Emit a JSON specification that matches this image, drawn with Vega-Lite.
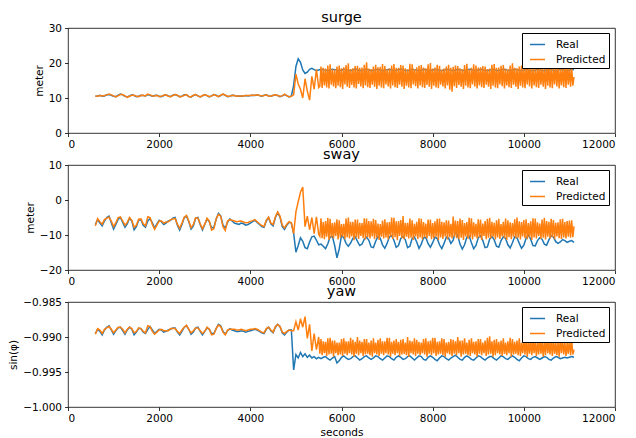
{
"$schema":"https://vega.github.io/schema/vega-lite/v6.json",
"background":"white",
"padding":{"left":8,"top":9,"right":0,"bottom":0},
"config":{
"font":"DejaVu Sans",
"view":{"stroke":"black","strokeWidth":0.8},
"axis":{"grid":false,"domain":false,"tickColor":"black","labelColor":"black","titleColor":"black","labelFont":"DejaVu Sans","titleFont":"DejaVu Sans","labelFontSize":10.5,"titleFontSize":10.5,"titleFontWeight":"normal","tickSize":3.5,"tickWidth":0.8,"labelPadding":3,"titlePadding":4},
"title":{"font":"DejaVu Sans","fontSize":14.5,"fontWeight":"normal","color":"black","offset":-2,"anchor":"middle","frame":"group"},
"legend":{"strokeColor":"black","fillColor":"white","padding":3,"cornerRadius":0,"symbolType":"stroke","symbolSize":225,"symbolStrokeWidth":1.5,"labelFont":"DejaVu Sans","labelFontSize":10.5,"labelColor":"black","rowPadding":1,"labelOffset":10,"symbolOffset":4}
},
"datasets":{
"surge":[
{"t":600,"Real":10.5,"Predicted":10.6},{"t":650,"Real":10.6,"Predicted":10.5},{"t":700,"Real":10.8,"Predicted":10.7},{"t":750,"Real":10.5,"Predicted":10.6},{"t":800,"Real":10.6,"Predicted":10.7},{"t":850,"Real":10.9,"Predicted":10.9},{"t":900,"Real":11.0,"Predicted":11.1},{"t":950,"Real":10.8,"Predicted":10.9},{"t":1000,"Real":10.5,"Predicted":10.6},{"t":1050,"Real":10.4,"Predicted":10.3},
{"t":1100,"Real":10.8,"Predicted":10.7},{"t":1150,"Real":11.1,"Predicted":11.0},{"t":1200,"Real":10.9,"Predicted":11.0},{"t":1250,"Real":10.5,"Predicted":10.6},{"t":1300,"Real":10.3,"Predicted":10.2},{"t":1350,"Real":10.6,"Predicted":10.5},{"t":1400,"Real":10.9,"Predicted":10.8},{"t":1450,"Real":10.7,"Predicted":10.8},{"t":1500,"Real":10.4,"Predicted":10.5},{"t":1550,"Real":10.5,"Predicted":10.4},
{"t":1600,"Real":10.8,"Predicted":10.7},{"t":1650,"Real":10.7,"Predicted":10.8},{"t":1700,"Real":10.6,"Predicted":10.6},{"t":1750,"Real":11.0,"Predicted":11.1},{"t":1800,"Real":10.8,"Predicted":10.9},{"t":1850,"Real":10.5,"Predicted":10.6},{"t":1900,"Real":10.7,"Predicted":10.6},{"t":1950,"Real":10.8,"Predicted":10.8},{"t":2000,"Real":10.5,"Predicted":10.4},{"t":2050,"Real":10.4,"Predicted":10.5},
{"t":2100,"Real":10.7,"Predicted":10.8},{"t":2150,"Real":10.9,"Predicted":10.9},{"t":2200,"Real":10.6,"Predicted":10.5},{"t":2250,"Real":10.4,"Predicted":10.4},{"t":2300,"Real":10.8,"Predicted":10.7},{"t":2350,"Real":11.0,"Predicted":11.0},{"t":2400,"Real":10.7,"Predicted":10.8},{"t":2450,"Real":10.4,"Predicted":10.3},{"t":2500,"Real":10.5,"Predicted":10.5},{"t":2550,"Real":10.9,"Predicted":10.8},
{"t":2600,"Real":10.9,"Predicted":11.0},{"t":2650,"Real":10.4,"Predicted":10.4},{"t":2700,"Real":10.3,"Predicted":10.3},{"t":2750,"Real":10.7,"Predicted":10.8},{"t":2800,"Real":11.0,"Predicted":11.0},{"t":2850,"Real":10.6,"Predicted":10.6},{"t":2900,"Real":10.3,"Predicted":10.3},{"t":2950,"Real":10.6,"Predicted":10.7},{"t":3000,"Real":11.0,"Predicted":10.9},{"t":3050,"Real":10.7,"Predicted":10.7},
{"t":3100,"Real":10.3,"Predicted":10.4},{"t":3150,"Real":10.6,"Predicted":10.6},{"t":3200,"Real":11.0,"Predicted":11.0},{"t":3250,"Real":10.8,"Predicted":10.7},{"t":3300,"Real":10.4,"Predicted":10.4},{"t":3350,"Real":10.7,"Predicted":10.8},{"t":3400,"Real":11.1,"Predicted":11.1},{"t":3450,"Real":10.8,"Predicted":10.8},{"t":3500,"Real":10.4,"Predicted":10.5},{"t":3550,"Real":10.5,"Predicted":10.5},
{"t":3600,"Real":10.8,"Predicted":10.8},{"t":3650,"Real":10.7,"Predicted":10.7},{"t":3700,"Real":10.5,"Predicted":10.5},{"t":3750,"Real":10.6,"Predicted":10.6},{"t":3800,"Real":10.5,"Predicted":10.6},{"t":3850,"Real":10.6,"Predicted":10.6},{"t":3900,"Real":10.7,"Predicted":10.7},{"t":3950,"Real":10.6,"Predicted":10.7},{"t":4000,"Real":10.7,"Predicted":10.7},{"t":4050,"Real":10.8,"Predicted":10.8},
{"t":4100,"Real":10.7,"Predicted":10.8},{"t":4150,"Real":10.9,"Predicted":10.9},{"t":4200,"Real":10.7,"Predicted":10.7},{"t":4250,"Real":10.5,"Predicted":10.6},{"t":4300,"Real":10.8,"Predicted":10.7},{"t":4350,"Real":10.9,"Predicted":10.9},{"t":4400,"Real":10.6,"Predicted":10.6},{"t":4450,"Real":10.5,"Predicted":10.5},{"t":4500,"Real":10.7,"Predicted":10.8},{"t":4550,"Real":10.9,"Predicted":10.9},
{"t":4600,"Real":10.7,"Predicted":10.7},{"t":4650,"Real":10.4,"Predicted":10.5},{"t":4700,"Real":10.6,"Predicted":10.6},{"t":4750,"Real":11.0,"Predicted":11.1},{"t":4800,"Real":10.7,"Predicted":10.7},{"t":4850,"Real":10.3,"Predicted":10.3},{"t":4900,"Real":10.6,"Predicted":10.5},
{"t":4950,"Real":13.5,"Predicted":10.9},{"t":5000,"Real":19.0,"Predicted":16.8},{"t":5050,"Real":21.2,"Predicted":14.0},{"t":5100,"Real":20.2,"Predicted":12.5},{"t":5150,"Real":18.0,"Predicted":10.0},{"t":5200,"Real":17.0,"Predicted":15.5},{"t":5250,"Real":17.4,"Predicted":12.0},{"t":5300,"Real":18.2,"Predicted":9.4},{"t":5350,"Real":18.5,"Predicted":16.2},{"t":5400,"Real":18.1,"Predicted":12.5},{"t":5450,"Real":17.8,"Predicted":18.2},{"t":5500,"Real":18.0,"Predicted":13.0},
{"t":5525,"Predicted":13.4},{"t":5550,"Real":18.2,"Predicted":19.0},{"t":5575,"Predicted":12.9},{"t":5600,"Real":18.1,"Predicted":18.6},{"t":5625,"Predicted":13.6},{"t":5650,"Real":17.9,"Predicted":18.4},{"t":5675,"Predicted":13.0},{"t":5700,"Real":17.8,"Predicted":19.3},{"t":5725,"Predicted":12.7},{"t":5750,"Real":18.0,"Predicted":19.6},
{"t":5775,"Predicted":13.8},{"t":5800,"Real":18.2,"Predicted":18.2},{"t":5825,"Predicted":13.3},{"t":5850,"Real":18.1,"Predicted":18.1},{"t":5875,"Predicted":12.8},{"t":5900,"Real":17.9,"Predicted":19.0},{"t":5925,"Predicted":13.5},{"t":5950,"Real":17.8,"Predicted":19.3},{"t":5975,"Predicted":13.1},{"t":6000,"Real":18.0,"Predicted":18.5},
{"t":6025,"Predicted":12.6},{"t":6050,"Real":18.2,"Predicted":18.8},{"t":6075,"Predicted":13.9},{"t":6100,"Real":18.1,"Predicted":19.4},{"t":6125,"Predicted":13.2},{"t":6150,"Real":17.9,"Predicted":19.9},{"t":6175,"Predicted":12.9},{"t":6200,"Real":17.8,"Predicted":18.3},{"t":6225,"Predicted":13.7},{"t":6250,"Real":18.0,"Predicted":18.5},
{"t":6275,"Predicted":13.0},{"t":6300,"Real":18.3,"Predicted":19.1},{"t":6325,"Predicted":12.7},{"t":6350,"Real":18.1,"Predicted":19.2},{"t":6375,"Predicted":14.0},{"t":6400,"Real":17.8,"Predicted":18.6},{"t":6425,"Predicted":13.3},{"t":6450,"Real":17.9,"Predicted":18.7},{"t":6475,"Predicted":12.8},{"t":6500,"Real":18.1,"Predicted":19.5},
{"t":6525,"Predicted":13.6},{"t":6550,"Real":18.2,"Predicted":20.2},{"t":6575,"Predicted":13.1},{"t":6600,"Real":18.0,"Predicted":18.4},{"t":6625,"Predicted":12.9},{"t":6650,"Real":17.8,"Predicted":18.3},{"t":6675,"Predicted":13.8},{"t":6700,"Real":17.9,"Predicted":19.0},{"t":6725,"Predicted":13.2},{"t":6750,"Real":18.1,"Predicted":19.5},
{"t":6775,"Predicted":12.6},{"t":6800,"Real":18.2,"Predicted":18.8},{"t":6825,"Predicted":13.5},{"t":6850,"Real":18.0,"Predicted":18.9},{"t":6875,"Predicted":13.0},{"t":6900,"Real":17.8,"Predicted":19.7},{"t":6925,"Predicted":12.8},{"t":6950,"Real":17.9,"Predicted":19.1},{"t":6975,"Predicted":13.9},{"t":7000,"Real":18.1,"Predicted":18.2},
{"t":7025,"Predicted":13.3},{"t":7050,"Real":18.2,"Predicted":18.4},{"t":7075,"Predicted":12.7},{"t":7100,"Real":18.0,"Predicted":19.3},{"t":7125,"Predicted":13.6},{"t":7150,"Real":17.8,"Predicted":19.7},{"t":7175,"Predicted":13.1},{"t":7200,"Real":17.9,"Predicted":18.6},{"t":7225,"Predicted":12.9},{"t":7250,"Real":18.1,"Predicted":18.6},
{"t":7275,"Predicted":13.8},{"t":7300,"Real":18.3,"Predicted":19.4},{"t":7325,"Predicted":13.2},{"t":7350,"Real":18.1,"Predicted":19.3},{"t":7375,"Predicted":12.6},{"t":7400,"Real":17.9,"Predicted":18.5},{"t":7425,"Predicted":13.5},{"t":7450,"Real":17.8,"Predicted":18.2},{"t":7475,"Predicted":13.0},{"t":7500,"Real":18.0,"Predicted":19.8},
{"t":7525,"Predicted":12.8},{"t":7550,"Real":18.2,"Predicted":19.6},{"t":7575,"Predicted":13.9},{"t":7600,"Real":18.1,"Predicted":18.3},{"t":7625,"Predicted":13.4},{"t":7650,"Real":17.9,"Predicted":18.8},{"t":7675,"Predicted":12.7},{"t":7700,"Real":17.8,"Predicted":19.2},{"t":7725,"Predicted":13.6},{"t":7750,"Real":18.0,"Predicted":19.4},
{"t":7775,"Predicted":13.1},{"t":7800,"Real":18.2,"Predicted":18.7},{"t":7825,"Predicted":12.9},{"t":7850,"Real":18.1,"Predicted":18.5},{"t":7875,"Predicted":13.7},{"t":7900,"Real":17.9,"Predicted":19.6},{"t":7925,"Predicted":13.2},{"t":7950,"Real":17.8,"Predicted":20.0},{"t":7975,"Predicted":12.6},{"t":8000,"Real":18.0,"Predicted":18.4},
{"t":8025,"Predicted":13.5},{"t":8050,"Real":18.2,"Predicted":18.7},{"t":8075,"Predicted":13.0},{"t":8100,"Real":18.1,"Predicted":19.5},{"t":8125,"Predicted":12.8},{"t":8150,"Real":17.9,"Predicted":19.2},{"t":8175,"Predicted":13.8},{"t":8200,"Real":17.8,"Predicted":18.1},{"t":8225,"Predicted":13.3},{"t":8250,"Real":18.0,"Predicted":18.4},
{"t":8275,"Predicted":12.7},{"t":8300,"Real":18.2,"Predicted":19.0},{"t":8325,"Predicted":13.6},{"t":8350,"Real":18.1,"Predicted":19.5},{"t":8375,"Predicted":12.4},{"t":8400,"Real":17.9,"Predicted":18.6},{"t":8425,"Predicted":11.8},{"t":8450,"Real":17.8,"Predicted":18.9},{"t":8475,"Predicted":13.4},{"t":8500,"Real":18.0,"Predicted":19.3},
{"t":8525,"Predicted":12.9},{"t":8550,"Real":18.2,"Predicted":19.1},{"t":8575,"Predicted":13.7},{"t":8600,"Real":18.1,"Predicted":18.5},{"t":8625,"Predicted":13.2},{"t":8650,"Real":17.9,"Predicted":18.3},{"t":8675,"Predicted":12.6},{"t":8700,"Real":17.8,"Predicted":19.4},{"t":8725,"Predicted":13.5},{"t":8750,"Real":18.0,"Predicted":19.8},
{"t":8775,"Predicted":13.0},{"t":8800,"Real":18.2,"Predicted":18.2},{"t":8825,"Predicted":12.8},{"t":8850,"Real":18.1,"Predicted":18.6},{"t":8875,"Predicted":13.9},{"t":8900,"Real":17.9,"Predicted":19.6},{"t":8925,"Predicted":13.3},{"t":8950,"Real":17.8,"Predicted":19.3},{"t":8975,"Predicted":12.7},{"t":9000,"Real":18.0,"Predicted":18.7},
{"t":9025,"Predicted":13.6},{"t":9050,"Real":18.2,"Predicted":18.8},{"t":9075,"Predicted":13.1},{"t":9100,"Real":18.1,"Predicted":19.1},{"t":9125,"Predicted":12.9},{"t":9150,"Real":17.9,"Predicted":19.0},{"t":9175,"Predicted":13.8},{"t":9200,"Real":17.8,"Predicted":18.3},{"t":9225,"Predicted":13.2},{"t":9250,"Real":18.0,"Predicted":18.4},
{"t":9275,"Predicted":12.6},{"t":9300,"Real":18.2,"Predicted":19.5},{"t":9325,"Predicted":13.5},{"t":9350,"Real":18.1,"Predicted":19.7},{"t":9375,"Predicted":13.0},{"t":9400,"Real":17.9,"Predicted":18.6},{"t":9425,"Predicted":12.8},{"t":9450,"Real":17.8,"Predicted":18.7},{"t":9475,"Predicted":13.9},{"t":9500,"Real":18.0,"Predicted":19.2},
{"t":9525,"Predicted":13.4},{"t":9550,"Real":18.2,"Predicted":19.4},{"t":9575,"Predicted":12.7},{"t":9600,"Real":18.1,"Predicted":18.4},{"t":9625,"Predicted":13.6},{"t":9650,"Real":17.9,"Predicted":18.2},{"t":9675,"Predicted":13.1},{"t":9700,"Real":17.8,"Predicted":19.3},{"t":9725,"Predicted":12.9},{"t":9750,"Real":18.0,"Predicted":19.9},
{"t":9775,"Predicted":13.8},{"t":9800,"Real":18.2,"Predicted":18.6},{"t":9825,"Predicted":13.2},{"t":9850,"Real":18.1,"Predicted":18.5},{"t":9875,"Predicted":12.6},{"t":9900,"Real":17.9,"Predicted":19.0},{"t":9925,"Predicted":13.5},{"t":9950,"Real":17.8,"Predicted":19.3},{"t":9975,"Predicted":13.0},{"t":10000,"Real":18.0,"Predicted":18.8},
{"t":10025,"Predicted":12.8},{"t":10050,"Real":18.2,"Predicted":18.8},{"t":10075,"Predicted":13.9},{"t":10100,"Real":18.1,"Predicted":19.5},{"t":10125,"Predicted":13.3},{"t":10150,"Real":17.9,"Predicted":19.6},{"t":10175,"Predicted":12.7},{"t":10200,"Real":17.8,"Predicted":18.3},{"t":10225,"Predicted":13.6},{"t":10250,"Real":18.0,"Predicted":18.3},
{"t":10275,"Predicted":13.1},{"t":10300,"Real":18.2,"Predicted":19.4},{"t":10325,"Predicted":12.9},{"t":10350,"Real":18.1,"Predicted":19.2},{"t":10375,"Predicted":13.8},{"t":10400,"Real":17.9,"Predicted":18.5},{"t":10425,"Predicted":13.2},{"t":10450,"Real":17.8,"Predicted":18.7},{"t":10475,"Predicted":12.6},{"t":10500,"Real":18.0,"Predicted":19.1},
{"t":10525,"Predicted":13.5},{"t":10550,"Real":18.2,"Predicted":19.5},{"t":10575,"Predicted":13.0},{"t":10600,"Real":18.1,"Predicted":18.9},{"t":10625,"Predicted":12.8},{"t":10650,"Real":17.9,"Predicted":18.6},{"t":10675,"Predicted":13.9},{"t":10700,"Real":17.8,"Predicted":19.3},{"t":10725,"Predicted":13.3},{"t":10750,"Real":18.0,"Predicted":19.1},
{"t":10775,"Predicted":12.7},{"t":10800,"Real":18.2,"Predicted":18.4},{"t":10825,"Predicted":13.6},{"t":10850,"Real":18.1,"Predicted":18.9},{"t":10875,"Predicted":13.1},{"t":10900,"Real":17.9,"Predicted":19.6},{"t":10925,"Predicted":12.9},{"t":10950,"Real":17.8,"Predicted":19.4},{"t":10975,"Predicted":13.8},{"t":11000,"Real":18.0,"Predicted":18.6},
{"t":11025,"Predicted":13.2},{"t":11050,"Real":18.2,"Predicted":18.8},{"t":11075,"Predicted":13.5},{"t":11100,"Real":18.1,"Predicted":16.0}
],
"sway":[
{"t":600,"Real":-7.0,"Predicted":-7.4},{"t":650,"Real":-5.6,"Predicted":-5.3},{"t":700,"Real":-6.6,"Predicted":-6.2},{"t":750,"Real":-7.4,"Predicted":-6.9},{"t":800,"Real":-6.0,"Predicted":-5.6},{"t":850,"Real":-5.0,"Predicted":-5.2},{"t":900,"Real":-4.6,"Predicted":-4.9},{"t":950,"Real":-6.5,"Predicted":-6.0},{"t":1000,"Real":-8.3,"Predicted":-7.6},{"t":1050,"Real":-7.0,"Predicted":-6.5},
{"t":1100,"Real":-5.5,"Predicted":-5.0},{"t":1150,"Real":-5.0,"Predicted":-4.8},{"t":1200,"Real":-6.4,"Predicted":-6.0},{"t":1250,"Real":-7.8,"Predicted":-7.2},{"t":1300,"Real":-6.8,"Predicted":-6.4},{"t":1350,"Real":-5.2,"Predicted":-5.0},{"t":1400,"Real":-6.0,"Predicted":-5.8},{"t":1450,"Real":-8.5,"Predicted":-7.8},{"t":1500,"Real":-7.6,"Predicted":-7.2},{"t":1550,"Real":-5.8,"Predicted":-5.5},
{"t":1600,"Real":-5.6,"Predicted":-5.4},{"t":1650,"Real":-7.2,"Predicted":-6.8},{"t":1700,"Real":-7.8,"Predicted":-7.4},{"t":1750,"Real":-6.0,"Predicted":-4.8},{"t":1800,"Real":-5.3,"Predicted":-5.0},{"t":1850,"Real":-6.5,"Predicted":-7.0},{"t":1900,"Real":-8.0,"Predicted":-8.4},{"t":1950,"Real":-6.8,"Predicted":-7.2},{"t":2000,"Real":-5.8,"Predicted":-6.0},{"t":2050,"Real":-6.2,"Predicted":-6.0},
{"t":2100,"Real":-7.0,"Predicted":-6.6},{"t":2150,"Real":-6.6,"Predicted":-6.3},{"t":2200,"Real":-6.0,"Predicted":-6.2},{"t":2250,"Real":-5.8,"Predicted":-5.6},{"t":2300,"Real":-5.2,"Predicted":-5.4},{"t":2350,"Real":-5.0,"Predicted":-5.3},{"t":2400,"Real":-7.2,"Predicted":-6.9},{"t":2450,"Real":-8.6,"Predicted":-8.1},{"t":2500,"Real":-7.0,"Predicted":-6.6},{"t":2550,"Real":-5.0,"Predicted":-4.9},
{"t":2600,"Real":-4.6,"Predicted":-4.4},{"t":2650,"Real":-6.2,"Predicted":-6.0},{"t":2700,"Real":-8.3,"Predicted":-7.9},{"t":2750,"Real":-7.4,"Predicted":-7.0},{"t":2800,"Real":-5.2,"Predicted":-5.1},{"t":2850,"Real":-5.0,"Predicted":-5.2},{"t":2900,"Real":-7.0,"Predicted":-6.8},{"t":2950,"Real":-8.6,"Predicted":-8.2},{"t":3000,"Real":-7.0,"Predicted":-6.9},{"t":3050,"Real":-5.4,"Predicted":-5.2},
{"t":3100,"Real":-6.2,"Predicted":-6.0},{"t":3150,"Real":-8.0,"Predicted":-8.6},{"t":3200,"Real":-7.8,"Predicted":-8.2},{"t":3250,"Real":-5.5,"Predicted":-5.4},{"t":3300,"Real":-3.8,"Predicted":-4.1},{"t":3350,"Real":-4.5,"Predicted":-4.6},{"t":3400,"Real":-7.2,"Predicted":-7.6},{"t":3450,"Real":-8.0,"Predicted":-8.7},{"t":3500,"Real":-6.4,"Predicted":-6.0},{"t":3550,"Real":-5.4,"Predicted":-5.6},
{"t":3600,"Real":-6.0,"Predicted":-5.8},{"t":3650,"Real":-6.6,"Predicted":-6.0},{"t":3700,"Real":-6.8,"Predicted":-6.2},{"t":3750,"Real":-7.0,"Predicted":-6.1},{"t":3800,"Real":-6.6,"Predicted":-6.0},{"t":3850,"Real":-6.8,"Predicted":-6.3},{"t":3900,"Real":-7.2,"Predicted":-6.5},{"t":3950,"Real":-7.0,"Predicted":-6.4},{"t":4000,"Real":-6.6,"Predicted":-6.1},{"t":4050,"Real":-6.2,"Predicted":-5.9},
{"t":4100,"Real":-5.8,"Predicted":-5.6},{"t":4150,"Real":-6.4,"Predicted":-6.2},{"t":4200,"Real":-7.0,"Predicted":-6.8},{"t":4250,"Real":-7.6,"Predicted":-7.3},{"t":4300,"Real":-7.8,"Predicted":-7.6},{"t":4350,"Real":-6.0,"Predicted":-5.8},{"t":4400,"Real":-5.0,"Predicted":-4.9},{"t":4450,"Real":-6.8,"Predicted":-6.6},{"t":4500,"Real":-7.4,"Predicted":-7.0},{"t":4550,"Real":-5.0,"Predicted":-4.8},
{"t":4600,"Real":-3.6,"Predicted":-3.4},{"t":4650,"Real":-4.8,"Predicted":-4.6},{"t":4700,"Real":-7.6,"Predicted":-7.2},{"t":4750,"Real":-8.4,"Predicted":-8.0},{"t":4800,"Real":-7.2,"Predicted":-6.9},{"t":4850,"Real":-6.4,"Predicted":-6.2},{"t":4900,"Real":-6.6,"Predicted":-6.5},
{"t":4950,"Real":-9.5,"Predicted":-9.6},{"t":5000,"Real":-14.9,"Predicted":-3.4},{"t":5050,"Real":-13.0,"Predicted":-0.5},{"t":5100,"Real":-10.8,"Predicted":2.2},{"t":5150,"Real":-11.8,"Predicted":3.7},{"t":5200,"Real":-13.6,"Predicted":-7.6},{"t":5250,"Real":-13.9,"Predicted":-4.6},{"t":5300,"Real":-12.0,"Predicted":-8.5},{"t":5350,"Real":-10.5,"Predicted":-5.0},{"t":5400,"Real":-10.3,"Predicted":-9.6},{"t":5450,"Real":-11.5,"Predicted":-4.8},{"t":5500,"Real":-12.8,"Predicted":-9.8},
{"t":5525,"Predicted":-10.4},{"t":5550,"Real":-12.6,"Predicted":-5.2},{"t":5575,"Predicted":-10.9},{"t":5600,"Real":-13.2,"Predicted":-6.3},{"t":5625,"Predicted":-11.2},{"t":5650,"Real":-13.9,"Predicted":-6.0},{"t":5675,"Predicted":-10.5},{"t":5700,"Real":-12.5,"Predicted":-5.1},{"t":5725,"Predicted":-11.4},{"t":5750,"Real":-10.6,"Predicted":-5.4},
{"t":5775,"Predicted":-10.7},{"t":5800,"Real":-10.4,"Predicted":-6.6},{"t":5825,"Predicted":-11.0},{"t":5850,"Real":-13.0,"Predicted":-6.4},{"t":5875,"Predicted":-10.3},{"t":5900,"Real":-16.5,"Predicted":-5.5},{"t":5925,"Predicted":-11.3},{"t":5950,"Real":-14.0,"Predicted":-5.8},{"t":5975,"Predicted":-10.8},{"t":6000,"Real":-10.2,"Predicted":-6.9},
{"t":6025,"Predicted":-10.5},{"t":6050,"Real":-10.8,"Predicted":-6.8},{"t":6075,"Predicted":-11.2},{"t":6100,"Real":-12.4,"Predicted":-5.3},{"t":6125,"Predicted":-10.6},{"t":6150,"Real":-13.2,"Predicted":-5.0},{"t":6175,"Predicted":-11.0},{"t":6200,"Real":-12.3,"Predicted":-6.2},{"t":6225,"Predicted":-10.4},{"t":6250,"Real":-10.9,"Predicted":-6.2},
{"t":6275,"Predicted":-11.5},{"t":6300,"Real":-10.5,"Predicted":-5.6},{"t":6325,"Predicted":-10.7},{"t":6350,"Real":-11.8,"Predicted":-5.6},{"t":6375,"Predicted":-11.1},{"t":6400,"Real":-13.0,"Predicted":-6.5},{"t":6425,"Predicted":-10.3},{"t":6450,"Real":-12.6,"Predicted":-6.6},{"t":6475,"Predicted":-10.9},{"t":6500,"Real":-11.2,"Predicted":-5.2},
{"t":6525,"Predicted":-11.3},{"t":6550,"Real":-10.6,"Predicted":-5.3},{"t":6575,"Predicted":-10.6},{"t":6600,"Real":-11.5,"Predicted":-6.0},{"t":6625,"Predicted":-11.0},{"t":6650,"Real":-13.4,"Predicted":-6.1},{"t":6675,"Predicted":-10.4},{"t":6700,"Real":-13.6,"Predicted":-5.4},{"t":6725,"Predicted":-11.2},{"t":6750,"Real":-11.8,"Predicted":-5.7},
{"t":6775,"Predicted":-10.8},{"t":6800,"Real":-10.4,"Predicted":-6.7},{"t":6825,"Predicted":-11.4},{"t":6850,"Real":-10.9,"Predicted":-6.9},{"t":6875,"Predicted":-10.5},{"t":6900,"Real":-12.8,"Predicted":-5.9},{"t":6925,"Predicted":-11.0},{"t":6950,"Real":-13.8,"Predicted":-5.5},{"t":6975,"Predicted":-10.7},{"t":7000,"Real":-12.4,"Predicted":-6.4},
{"t":7025,"Predicted":-11.3},{"t":7050,"Real":-10.6,"Predicted":-6.3},{"t":7075,"Predicted":-10.4},{"t":7100,"Real":-10.2,"Predicted":-5.0},{"t":7125,"Predicted":-11.1},{"t":7150,"Real":-11.5,"Predicted":-5.1},{"t":7175,"Predicted":-10.6},{"t":7200,"Real":-13.5,"Predicted":-6.1},{"t":7225,"Predicted":-11.5},{"t":7250,"Real":-13.0,"Predicted":-6.0},
{"t":7275,"Predicted":-10.3},{"t":7300,"Real":-11.0,"Predicted":-5.7},{"t":7325,"Predicted":-10.9},{"t":7350,"Real":-10.4,"Predicted":-4.6},{"t":7375,"Predicted":-11.2},{"t":7400,"Real":-11.4,"Predicted":-6.5},{"t":7425,"Predicted":-10.5},{"t":7450,"Real":-13.6,"Predicted":-6.5},{"t":7475,"Predicted":-11.0},{"t":7500,"Real":-13.2,"Predicted":-5.3},
{"t":7525,"Predicted":-10.8},{"t":7550,"Real":-11.0,"Predicted":-5.8},{"t":7575,"Predicted":-11.4},{"t":7600,"Real":-10.6,"Predicted":-6.8},{"t":7625,"Predicted":-10.4},{"t":7650,"Real":-12.0,"Predicted":-6.2},{"t":7675,"Predicted":-11.1},{"t":7700,"Real":-13.8,"Predicted":-5.2},{"t":7725,"Predicted":-10.7},{"t":7750,"Real":-12.6,"Predicted":-5.4},
{"t":7775,"Predicted":-11.3},{"t":7800,"Real":-10.8,"Predicted":-6.3},{"t":7825,"Predicted":-10.6},{"t":7850,"Real":-10.7,"Predicted":-6.7},{"t":7875,"Predicted":-11.0},{"t":7900,"Real":-12.5,"Predicted":-5.6},{"t":7925,"Predicted":-10.3},{"t":7950,"Real":-13.5,"Predicted":-5.6},{"t":7975,"Predicted":-11.2},{"t":8000,"Real":-12.2,"Predicted":-6.6},
{"t":8025,"Predicted":-10.9},{"t":8050,"Real":-10.6,"Predicted":-6.1},{"t":8075,"Predicted":-10.5},{"t":8100,"Real":-11.0,"Predicted":-5.4},{"t":8125,"Predicted":-11.4},{"t":8150,"Real":-12.8,"Predicted":-5.3},{"t":8175,"Predicted":-10.7},{"t":8200,"Real":-13.9,"Predicted":-6.2},{"t":8225,"Predicted":-11.1},{"t":8250,"Real":-12.4,"Predicted":-6.4},
{"t":8275,"Predicted":-10.4},{"t":8300,"Real":-10.6,"Predicted":-5.8},{"t":8325,"Predicted":-11.3},{"t":8350,"Real":-10.9,"Predicted":-5.9},{"t":8375,"Predicted":-10.6},{"t":8400,"Real":-12.4,"Predicted":-6.8},{"t":8425,"Predicted":-11.0},{"t":8450,"Real":-11.5,"Predicted":-4.7},{"t":8475,"Predicted":-10.5},{"t":8500,"Real":-8.9,"Predicted":-5.9},
{"t":8525,"Predicted":-10.9},{"t":8550,"Real":-10.2,"Predicted":-6.0},{"t":8575,"Predicted":-11.2},{"t":8600,"Real":-12.6,"Predicted":-5.3},{"t":8625,"Predicted":-10.8},{"t":8650,"Real":-14.0,"Predicted":-5.7},{"t":8675,"Predicted":-11.4},{"t":8700,"Real":-12.8,"Predicted":-6.6},{"t":8725,"Predicted":-10.4},{"t":8750,"Real":-10.6,"Predicted":-6.3},
{"t":8775,"Predicted":-11.1},{"t":8800,"Real":-10.3,"Predicted":-5.1},{"t":8825,"Predicted":-10.7},{"t":8850,"Real":-12.2,"Predicted":-5.2},{"t":8875,"Predicted":-11.3},{"t":8900,"Real":-13.9,"Predicted":-6.4},{"t":8925,"Predicted":-10.5},{"t":8950,"Real":-13.0,"Predicted":-6.8},{"t":8975,"Predicted":-11.0},{"t":9000,"Real":-10.8,"Predicted":-5.5},
{"t":9025,"Predicted":-10.6},{"t":9050,"Real":-10.2,"Predicted":-5.6},{"t":9075,"Predicted":-11.4},{"t":9100,"Real":-11.6,"Predicted":-6.7},{"t":9125,"Predicted":-10.3},{"t":9150,"Real":-13.6,"Predicted":-6.0},{"t":9175,"Predicted":-11.2},{"t":9200,"Real":-13.4,"Predicted":-5.4},{"t":9225,"Predicted":-10.8},{"t":9250,"Real":-11.2,"Predicted":-5.1},
{"t":9275,"Predicted":-11.0},{"t":9300,"Real":-10.4,"Predicted":-6.2},{"t":9325,"Predicted":-10.5},{"t":9350,"Real":-11.4,"Predicted":-6.5},{"t":9375,"Predicted":-11.3},{"t":9400,"Real":-13.2,"Predicted":-5.8},{"t":9425,"Predicted":-10.7},{"t":9450,"Real":-13.5,"Predicted":-5.4},{"t":9475,"Predicted":-11.1},{"t":9500,"Real":-11.6,"Predicted":-6.9},
{"t":9525,"Predicted":-10.4},{"t":9550,"Real":-10.5,"Predicted":-6.2},{"t":9575,"Predicted":-10.9},{"t":9600,"Real":-11.0,"Predicted":-5.3},{"t":9625,"Predicted":-11.4},{"t":9650,"Real":-12.8,"Predicted":-5.8},{"t":9675,"Predicted":-10.6},{"t":9700,"Real":-13.7,"Predicted":-6.4},{"t":9725,"Predicted":-11.2},{"t":9750,"Real":-12.2,"Predicted":-6.6},
{"t":9775,"Predicted":-10.5},{"t":9800,"Real":-10.5,"Predicted":-5.5},{"t":9825,"Predicted":-11.0},{"t":9850,"Real":-10.8,"Predicted":-5.0},{"t":9875,"Predicted":-10.8},{"t":9900,"Real":-12.4,"Predicted":-6.1},{"t":9925,"Predicted":-11.3},{"t":9950,"Real":-13.8,"Predicted":-6.3},{"t":9975,"Predicted":-10.4},{"t":10000,"Real":-12.9,"Predicted":-5.7},
{"t":10025,"Predicted":-10.9},{"t":10050,"Real":-10.9,"Predicted":-5.5},{"t":10075,"Predicted":-11.2},{"t":10100,"Real":-10.0,"Predicted":-6.6},{"t":10125,"Predicted":-10.6},{"t":10150,"Real":-11.2,"Predicted":-6.1},{"t":10175,"Predicted":-11.4},{"t":10200,"Real":-13.0,"Predicted":-5.2},{"t":10225,"Predicted":-10.7},{"t":10250,"Real":-13.1,"Predicted":-5.3},
{"t":10275,"Predicted":-11.0},{"t":10300,"Real":-11.6,"Predicted":-6.4},{"t":10325,"Predicted":-10.3},{"t":10350,"Real":-10.8,"Predicted":-6.7},{"t":10375,"Predicted":-11.1},{"t":10400,"Real":-11.2,"Predicted":-5.6},{"t":10425,"Predicted":-10.8},{"t":10450,"Real":-12.6,"Predicted":-5.1},{"t":10475,"Predicted":-11.3},{"t":10500,"Real":-12.9,"Predicted":-6.0},
{"t":10525,"Predicted":-10.5},{"t":10550,"Real":-11.4,"Predicted":-6.2},{"t":10575,"Predicted":-11.0},{"t":10600,"Real":-10.2,"Predicted":-5.4},{"t":10625,"Predicted":-10.6},{"t":10650,"Real":-10.6,"Predicted":-5.7},{"t":10675,"Predicted":-11.2},{"t":10700,"Real":-11.9,"Predicted":-6.5},{"t":10725,"Predicted":-10.4},{"t":10750,"Real":-12.4,"Predicted":-6.4},
{"t":10775,"Predicted":-10.9},{"t":10800,"Real":-12.0,"Predicted":-5.5},{"t":10825,"Predicted":-11.1},{"t":10850,"Real":-11.3,"Predicted":-5.4},{"t":10875,"Predicted":-10.7},{"t":10900,"Real":-11.6,"Predicted":-6.3},{"t":10925,"Predicted":-11.0},{"t":10950,"Real":-12.1,"Predicted":-6.0},{"t":10975,"Predicted":-10.5},{"t":11000,"Real":-11.8,"Predicted":-5.9},
{"t":11025,"Predicted":-10.8},{"t":11050,"Real":-11.6,"Predicted":-5.8},{"t":11075,"Predicted":-10.6},{"t":11100,"Real":-12.1,"Predicted":-7.5}
],
"yaw":[
{"t":600,"Real":-0.9895,"Predicted":-0.9896},{"t":650,"Real":-0.9889,"Predicted":-0.9888},{"t":700,"Real":-0.9892,"Predicted":-0.9890},{"t":750,"Real":-0.9897,"Predicted":-0.9895},{"t":800,"Real":-0.9890,"Predicted":-0.9889},{"t":850,"Real":-0.9886,"Predicted":-0.9887},{"t":900,"Real":-0.9884,"Predicted":-0.9885},{"t":950,"Real":-0.9890,"Predicted":-0.9889},{"t":1000,"Real":-0.9896,"Predicted":-0.9894},{"t":1050,"Real":-0.9891,"Predicted":-0.9890},
{"t":1100,"Real":-0.9887,"Predicted":-0.9886},{"t":1150,"Real":-0.9886,"Predicted":-0.9886},{"t":1200,"Real":-0.9891,"Predicted":-0.9889},{"t":1250,"Real":-0.9896,"Predicted":-0.9894},{"t":1300,"Real":-0.9890,"Predicted":-0.9889},{"t":1350,"Real":-0.9886,"Predicted":-0.9886},{"t":1400,"Real":-0.9889,"Predicted":-0.9888},{"t":1450,"Real":-0.9897,"Predicted":-0.9894},{"t":1500,"Real":-0.9893,"Predicted":-0.9892},{"t":1550,"Real":-0.9888,"Predicted":-0.9887},
{"t":1600,"Real":-0.9888,"Predicted":-0.9888},{"t":1650,"Real":-0.9893,"Predicted":-0.9892},{"t":1700,"Real":-0.9895,"Predicted":-0.9894},{"t":1750,"Real":-0.9889,"Predicted":-0.9884},{"t":1800,"Real":-0.9885,"Predicted":-0.9885},{"t":1850,"Real":-0.9890,"Predicted":-0.9892},{"t":1900,"Real":-0.9895,"Predicted":-0.9896},{"t":1950,"Real":-0.9892,"Predicted":-0.9893},{"t":2000,"Real":-0.9889,"Predicted":-0.9890},{"t":2050,"Real":-0.9890,"Predicted":-0.9889},
{"t":2100,"Real":-0.9893,"Predicted":-0.9891},{"t":2150,"Real":-0.9892,"Predicted":-0.9891},{"t":2200,"Real":-0.9890,"Predicted":-0.9891},{"t":2250,"Real":-0.9889,"Predicted":-0.9888},{"t":2300,"Real":-0.9887,"Predicted":-0.9888},{"t":2350,"Real":-0.9887,"Predicted":-0.9888},{"t":2400,"Real":-0.9893,"Predicted":-0.9892},{"t":2450,"Real":-0.9897,"Predicted":-0.9895},{"t":2500,"Real":-0.9892,"Predicted":-0.9890},{"t":2550,"Real":-0.9886,"Predicted":-0.9886},
{"t":2600,"Real":-0.9884,"Predicted":-0.9883},{"t":2650,"Real":-0.9889,"Predicted":-0.9889},{"t":2700,"Real":-0.9896,"Predicted":-0.9894},{"t":2750,"Real":-0.9893,"Predicted":-0.9891},{"t":2800,"Real":-0.9887,"Predicted":-0.9887},{"t":2850,"Real":-0.9886,"Predicted":-0.9887},{"t":2900,"Real":-0.9892,"Predicted":-0.9891},{"t":2950,"Real":-0.9897,"Predicted":-0.9895},{"t":3000,"Real":-0.9892,"Predicted":-0.9892},{"t":3050,"Real":-0.9887,"Predicted":-0.9886},
{"t":3100,"Real":-0.9889,"Predicted":-0.9889},{"t":3150,"Real":-0.9895,"Predicted":-0.9897},{"t":3200,"Real":-0.9895,"Predicted":-0.9896},{"t":3250,"Real":-0.9888,"Predicted":-0.9888},{"t":3300,"Real":-0.9882,"Predicted":-0.9883},{"t":3350,"Real":-0.9884,"Predicted":-0.9885},{"t":3400,"Real":-0.9892,"Predicted":-0.9893},{"t":3450,"Real":-0.9896,"Predicted":-0.9897},{"t":3500,"Real":-0.9891,"Predicted":-0.9890},{"t":3550,"Real":-0.9888,"Predicted":-0.9889},
{"t":3600,"Real":-0.9890,"Predicted":-0.9889},{"t":3650,"Real":-0.9891,"Predicted":-0.9889},{"t":3700,"Real":-0.9892,"Predicted":-0.9890},{"t":3750,"Real":-0.9892,"Predicted":-0.9890},{"t":3800,"Real":-0.9891,"Predicted":-0.9889},{"t":3850,"Real":-0.9892,"Predicted":-0.9890},{"t":3900,"Real":-0.9893,"Predicted":-0.9891},{"t":3950,"Real":-0.9892,"Predicted":-0.9890},{"t":4000,"Real":-0.9891,"Predicted":-0.9889},{"t":4050,"Real":-0.9890,"Predicted":-0.9889},
{"t":4100,"Real":-0.9889,"Predicted":-0.9888},{"t":4150,"Real":-0.9890,"Predicted":-0.9889},{"t":4200,"Real":-0.9892,"Predicted":-0.9891},{"t":4250,"Real":-0.9894,"Predicted":-0.9893},{"t":4300,"Real":-0.9895,"Predicted":-0.9894},{"t":4350,"Real":-0.9889,"Predicted":-0.9888},{"t":4400,"Real":-0.9886,"Predicted":-0.9886},{"t":4450,"Real":-0.9891,"Predicted":-0.9890},{"t":4500,"Real":-0.9894,"Predicted":-0.9893},{"t":4550,"Real":-0.9886,"Predicted":-0.9885},
{"t":4600,"Real":-0.9882,"Predicted":-0.9882},{"t":4650,"Real":-0.9885,"Predicted":-0.9885},{"t":4700,"Real":-0.9894,"Predicted":-0.9893},{"t":4750,"Real":-0.9897,"Predicted":-0.9895},{"t":4800,"Real":-0.9893,"Predicted":-0.9892},{"t":4850,"Real":-0.9890,"Predicted":-0.9890},{"t":4900,"Real":-0.9890,"Predicted":-0.9891},
{"t":4950,"Real":-0.9947,"Predicted":-0.9891},{"t":5000,"Real":-0.9925,"Predicted":-0.9878},{"t":5050,"Real":-0.9930,"Predicted":-0.9890},{"t":5100,"Real":-0.9922,"Predicted":-0.9874},{"t":5150,"Real":-0.9928,"Predicted":-0.9886},{"t":5200,"Real":-0.9924,"Predicted":-0.9871},{"t":5250,"Real":-0.9929,"Predicted":-0.9902},{"t":5300,"Real":-0.9926,"Predicted":-0.9882},{"t":5350,"Real":-0.9930,"Predicted":-0.9920},{"t":5400,"Real":-0.9928,"Predicted":-0.9895},{"t":5450,"Real":-0.9931,"Predicted":-0.9918},{"t":5500,"Real":-0.9929,"Predicted":-0.9900},
{"t":5525,"Predicted":-0.9924},{"t":5550,"Real":-0.9931,"Predicted":-0.9903},{"t":5575,"Predicted":-0.9926},{"t":5600,"Real":-0.9929,"Predicted":-0.9906},{"t":5625,"Predicted":-0.9923},{"t":5650,"Real":-0.9928,"Predicted":-0.9907},{"t":5675,"Predicted":-0.9927},{"t":5700,"Real":-0.9931,"Predicted":-0.9902},{"t":5725,"Predicted":-0.9925},{"t":5750,"Real":-0.9933,"Predicted":-0.9901},
{"t":5775,"Predicted":-0.9924},{"t":5800,"Real":-0.9930,"Predicted":-0.9905},{"t":5825,"Predicted":-0.9928},{"t":5850,"Real":-0.9928,"Predicted":-0.9905},{"t":5875,"Predicted":-0.9923},{"t":5900,"Real":-0.9937,"Predicted":-0.9908},{"t":5925,"Predicted":-0.9926},{"t":5950,"Real":-0.9934,"Predicted":-0.9908},{"t":5975,"Predicted":-0.9925},{"t":6000,"Real":-0.9929,"Predicted":-0.9903},
{"t":6025,"Predicted":-0.9927},{"t":6050,"Real":-0.9927,"Predicted":-0.9902},{"t":6075,"Predicted":-0.9924},{"t":6100,"Real":-0.9930,"Predicted":-0.9906},{"t":6125,"Predicted":-0.9926},{"t":6150,"Real":-0.9932,"Predicted":-0.9906},{"t":6175,"Predicted":-0.9923},{"t":6200,"Real":-0.9931,"Predicted":-0.9901},{"t":6225,"Predicted":-0.9925},{"t":6250,"Real":-0.9928,"Predicted":-0.9904},
{"t":6275,"Predicted":-0.9928},{"t":6300,"Real":-0.9927,"Predicted":-0.9907},{"t":6325,"Predicted":-0.9924},{"t":6350,"Real":-0.9930,"Predicted":-0.9900},{"t":6375,"Predicted":-0.9926},{"t":6400,"Real":-0.9933,"Predicted":-0.9905},{"t":6425,"Predicted":-0.9923},{"t":6450,"Real":-0.9931,"Predicted":-0.9907},{"t":6475,"Predicted":-0.9927},{"t":6500,"Real":-0.9928,"Predicted":-0.9903},
{"t":6525,"Predicted":-0.9925},{"t":6550,"Real":-0.9927,"Predicted":-0.9903},{"t":6575,"Predicted":-0.9924},{"t":6600,"Real":-0.9930,"Predicted":-0.9908},{"t":6625,"Predicted":-0.9926},{"t":6650,"Real":-0.9932,"Predicted":-0.9905},{"t":6675,"Predicted":-0.9928},{"t":6700,"Real":-0.9930,"Predicted":-0.9902},{"t":6725,"Predicted":-0.9923},{"t":6750,"Real":-0.9927,"Predicted":-0.9908},
{"t":6775,"Predicted":-0.9925},{"t":6800,"Real":-0.9928,"Predicted":-0.9904},{"t":6825,"Predicted":-0.9927},{"t":6850,"Real":-0.9931,"Predicted":-0.9902},{"t":6875,"Predicted":-0.9924},{"t":6900,"Real":-0.9933,"Predicted":-0.9906},{"t":6925,"Predicted":-0.9926},{"t":6950,"Real":-0.9930,"Predicted":-0.9906},{"t":6975,"Predicted":-0.9923},{"t":7000,"Real":-0.9927,"Predicted":-0.9901},
{"t":7025,"Predicted":-0.9925},{"t":7050,"Real":-0.9928,"Predicted":-0.9901},{"t":7075,"Predicted":-0.9928},{"t":7100,"Real":-0.9931,"Predicted":-0.9907},{"t":7125,"Predicted":-0.9924},{"t":7150,"Real":-0.9933,"Predicted":-0.9905},{"t":7175,"Predicted":-0.9926},{"t":7200,"Real":-0.9929,"Predicted":-0.9903},{"t":7225,"Predicted":-0.9923},{"t":7250,"Real":-0.9927,"Predicted":-0.9907},
{"t":7275,"Predicted":-0.9927},{"t":7300,"Real":-0.9929,"Predicted":-0.9904},{"t":7325,"Predicted":-0.9925},{"t":7350,"Real":-0.9932,"Predicted":-0.9903},{"t":7375,"Predicted":-0.9924},{"t":7400,"Real":-0.9931,"Predicted":-0.9908},{"t":7425,"Predicted":-0.9926},{"t":7450,"Real":-0.9928,"Predicted":-0.9900},{"t":7475,"Predicted":-0.9928},{"t":7500,"Real":-0.9927,"Predicted":-0.9905},
{"t":7525,"Predicted":-0.9923},{"t":7550,"Real":-0.9930,"Predicted":-0.9906},{"t":7575,"Predicted":-0.9925},{"t":7600,"Real":-0.9933,"Predicted":-0.9902},{"t":7625,"Predicted":-0.9927},{"t":7650,"Real":-0.9930,"Predicted":-0.9904},{"t":7675,"Predicted":-0.9924},{"t":7700,"Real":-0.9927,"Predicted":-0.9907},{"t":7725,"Predicted":-0.9926},{"t":7750,"Real":-0.9928,"Predicted":-0.9908},
{"t":7775,"Predicted":-0.9923},{"t":7800,"Real":-0.9932,"Predicted":-0.9903},{"t":7825,"Predicted":-0.9925},{"t":7850,"Real":-0.9933,"Predicted":-0.9902},{"t":7875,"Predicted":-0.9928},{"t":7900,"Real":-0.9929,"Predicted":-0.9906},{"t":7925,"Predicted":-0.9924},{"t":7950,"Real":-0.9927,"Predicted":-0.9905},{"t":7975,"Predicted":-0.9926},{"t":8000,"Real":-0.9929,"Predicted":-0.9901},
{"t":8025,"Predicted":-0.9923},{"t":8050,"Real":-0.9932,"Predicted":-0.9901},{"t":8075,"Predicted":-0.9927},{"t":8100,"Real":-0.9934,"Predicted":-0.9907},{"t":8125,"Predicted":-0.9925},{"t":8150,"Real":-0.9930,"Predicted":-0.9906},{"t":8175,"Predicted":-0.9924},{"t":8200,"Real":-0.9927,"Predicted":-0.9902},{"t":8225,"Predicted":-0.9926},{"t":8250,"Real":-0.9928,"Predicted":-0.9903},
{"t":8275,"Predicted":-0.9928},{"t":8300,"Real":-0.9931,"Predicted":-0.9908},{"t":8325,"Predicted":-0.9923},{"t":8350,"Real":-0.9933,"Predicted":-0.9907},{"t":8375,"Predicted":-0.9925},{"t":8400,"Real":-0.9930,"Predicted":-0.9903},{"t":8425,"Predicted":-0.9927},{"t":8450,"Real":-0.9928,"Predicted":-0.9904},{"t":8475,"Predicted":-0.9924},{"t":8500,"Real":-0.9926,"Predicted":-0.9906},
{"t":8525,"Predicted":-0.9926},{"t":8550,"Real":-0.9929,"Predicted":-0.9900},{"t":8575,"Predicted":-0.9923},{"t":8600,"Real":-0.9932,"Predicted":-0.9905},{"t":8625,"Predicted":-0.9928},{"t":8650,"Real":-0.9933,"Predicted":-0.9905},{"t":8675,"Predicted":-0.9925},{"t":8700,"Real":-0.9929,"Predicted":-0.9902},{"t":8725,"Predicted":-0.9924},{"t":8750,"Real":-0.9927,"Predicted":-0.9908},
{"t":8775,"Predicted":-0.9926},{"t":8800,"Real":-0.9929,"Predicted":-0.9904},{"t":8825,"Predicted":-0.9927},{"t":8850,"Real":-0.9932,"Predicted":-0.9902},{"t":8875,"Predicted":-0.9923},{"t":8900,"Real":-0.9933,"Predicted":-0.9907},{"t":8925,"Predicted":-0.9925},{"t":8950,"Real":-0.9930,"Predicted":-0.9906},{"t":8975,"Predicted":-0.9928},{"t":9000,"Real":-0.9927,"Predicted":-0.9903},
{"t":9025,"Predicted":-0.9924},{"t":9050,"Real":-0.9928,"Predicted":-0.9903},{"t":9075,"Predicted":-0.9926},{"t":9100,"Real":-0.9931,"Predicted":-0.9908},{"t":9125,"Predicted":-0.9923},{"t":9150,"Real":-0.9933,"Predicted":-0.9905},{"t":9175,"Predicted":-0.9927},{"t":9200,"Real":-0.9930,"Predicted":-0.9901},{"t":9225,"Predicted":-0.9925},{"t":9250,"Real":-0.9928,"Predicted":-0.9899},
{"t":9275,"Predicted":-0.9924},{"t":9300,"Real":-0.9928,"Predicted":-0.9906},{"t":9325,"Predicted":-0.9928},{"t":9350,"Real":-0.9931,"Predicted":-0.9904},{"t":9375,"Predicted":-0.9926},{"t":9400,"Real":-0.9933,"Predicted":-0.9903},{"t":9425,"Predicted":-0.9923},{"t":9450,"Real":-0.9930,"Predicted":-0.9907},{"t":9475,"Predicted":-0.9925},{"t":9500,"Real":-0.9927,"Predicted":-0.9905},
{"t":9525,"Predicted":-0.9927},{"t":9550,"Real":-0.9928,"Predicted":-0.9902},{"t":9575,"Predicted":-0.9924},{"t":9600,"Real":-0.9931,"Predicted":-0.9908},{"t":9625,"Predicted":-0.9926},{"t":9650,"Real":-0.9932,"Predicted":-0.9906},{"t":9675,"Predicted":-0.9923},{"t":9700,"Real":-0.9929,"Predicted":-0.9901},{"t":9725,"Predicted":-0.9928},{"t":9750,"Real":-0.9927,"Predicted":-0.9903},
{"t":9775,"Predicted":-0.9925},{"t":9800,"Real":-0.9929,"Predicted":-0.9907},{"t":9825,"Predicted":-0.9924},{"t":9850,"Real":-0.9932,"Predicted":-0.9905},{"t":9875,"Predicted":-0.9926},{"t":9900,"Real":-0.9934,"Predicted":-0.9902},{"t":9925,"Predicted":-0.9927},{"t":9950,"Real":-0.9930,"Predicted":-0.9908},{"t":9975,"Predicted":-0.9923},{"t":10000,"Real":-0.9927,"Predicted":-0.9904},
{"t":10025,"Predicted":-0.9925},{"t":10050,"Real":-0.9928,"Predicted":-0.9901},{"t":10075,"Predicted":-0.9928},{"t":10100,"Real":-0.9931,"Predicted":-0.9906},{"t":10125,"Predicted":-0.9924},{"t":10150,"Real":-0.9932,"Predicted":-0.9904},{"t":10175,"Predicted":-0.9926},{"t":10200,"Real":-0.9929,"Predicted":-0.9903},{"t":10225,"Predicted":-0.9923},{"t":10250,"Real":-0.9928,"Predicted":-0.9906},
{"t":10275,"Predicted":-0.9927},{"t":10300,"Real":-0.9930,"Predicted":-0.9907},{"t":10325,"Predicted":-0.9925},{"t":10350,"Real":-0.9932,"Predicted":-0.9902},{"t":10375,"Predicted":-0.9924},{"t":10400,"Real":-0.9930,"Predicted":-0.9905},{"t":10425,"Predicted":-0.9928},{"t":10450,"Real":-0.9928,"Predicted":-0.9905},{"t":10475,"Predicted":-0.9926},{"t":10500,"Real":-0.9929,"Predicted":-0.9901},
{"t":10525,"Predicted":-0.9923},{"t":10550,"Real":-0.9932,"Predicted":-0.9907},{"t":10575,"Predicted":-0.9925},{"t":10600,"Real":-0.9933,"Predicted":-0.9904},{"t":10625,"Predicted":-0.9927},{"t":10650,"Real":-0.9930,"Predicted":-0.9903},{"t":10675,"Predicted":-0.9924},{"t":10700,"Real":-0.9928,"Predicted":-0.9908},{"t":10725,"Predicted":-0.9926},{"t":10750,"Real":-0.9929,"Predicted":-0.9906},
{"t":10775,"Predicted":-0.9928},{"t":10800,"Real":-0.9931,"Predicted":-0.9902},{"t":10825,"Predicted":-0.9923},{"t":10850,"Real":-0.9930,"Predicted":-0.9904},{"t":10875,"Predicted":-0.9925},{"t":10900,"Real":-0.9929,"Predicted":-0.9907},{"t":10925,"Predicted":-0.9927},{"t":10950,"Real":-0.9930,"Predicted":-0.9908},{"t":10975,"Predicted":-0.9924},{"t":11000,"Real":-0.9929,"Predicted":-0.9903},
{"t":11025,"Predicted":-0.9926},{"t":11050,"Real":-0.9928,"Predicted":-0.9905},{"t":11075,"Predicted":-0.9925},{"t":11100,"Real":-0.9929,"Predicted":-0.9918}
]
},
"spacing":32,
"bounds":"flush",
"resolve":{"scale":{"color":"independent"},"legend":{"color":"independent"}},
"vconcat":[
{"title":"surge","width":547,"height":105,"data":{"name":"surge"},
"transform":[{"fold":["Real","Predicted"],"as":["series","value"]},{"filter":"isValid(datum.value)"}],
"mark":{"type":"line","strokeWidth":1.5,"clip":true},
"encoding":{
"x":{"field":"t","type":"quantitative","scale":{"domain":[0,12000],"nice":false},"axis":{"values":[0,2000,4000,6000,8000,10000,12000],"format":"d","title":null}},
"y":{"field":"value","type":"quantitative","scale":{"domain":[0,30],"nice":false,"zero":false},"axis":{"values":[0,10,20,30],"title":"meter"}},
"color":{"field":"series","type":"nominal","scale":{"domain":["Real","Predicted"],"range":["#1f77b4","#ff7f0e"]},"legend":{"title":null,"orient":"none","legendX":454,"legendY":5}}
}},
{"title":"sway","width":547,"height":105,"data":{"name":"sway"},
"transform":[{"fold":["Real","Predicted"],"as":["series","value"]},{"filter":"isValid(datum.value)"}],
"mark":{"type":"line","strokeWidth":1.5,"clip":true},
"encoding":{
"x":{"field":"t","type":"quantitative","scale":{"domain":[0,12000],"nice":false},"axis":{"values":[0,2000,4000,6000,8000,10000,12000],"format":"d","title":null}},
"y":{"field":"value","type":"quantitative","scale":{"domain":[-20,10],"nice":false,"zero":false},"axis":{"values":[-20,-10,0,10],"title":"meter"}},
"color":{"field":"series","type":"nominal","scale":{"domain":["Real","Predicted"],"range":["#1f77b4","#ff7f0e"]},"legend":{"title":null,"orient":"none","legendX":454,"legendY":5}}
}},
{"title":"yaw","width":547,"height":105,"data":{"name":"yaw"},
"transform":[{"fold":["Real","Predicted"],"as":["series","value"]},{"filter":"isValid(datum.value)"}],
"mark":{"type":"line","strokeWidth":1.5,"clip":true},
"encoding":{
"x":{"field":"t","type":"quantitative","scale":{"domain":[0,12000],"nice":false},"axis":{"values":[0,2000,4000,6000,8000,10000,12000],"format":"d","title":"seconds","titlePadding":3}},
"y":{"field":"value","type":"quantitative","scale":{"domain":[-1.0,-0.985],"nice":false,"zero":false},"axis":{"values":[-1.0,-0.995,-0.99,-0.985],"format":".3f","title":"sin(φ)"}},
"color":{"field":"series","type":"nominal","scale":{"domain":["Real","Predicted"],"range":["#1f77b4","#ff7f0e"]},"legend":{"title":null,"orient":"none","legendX":454,"legendY":5}}
}}
]
}
